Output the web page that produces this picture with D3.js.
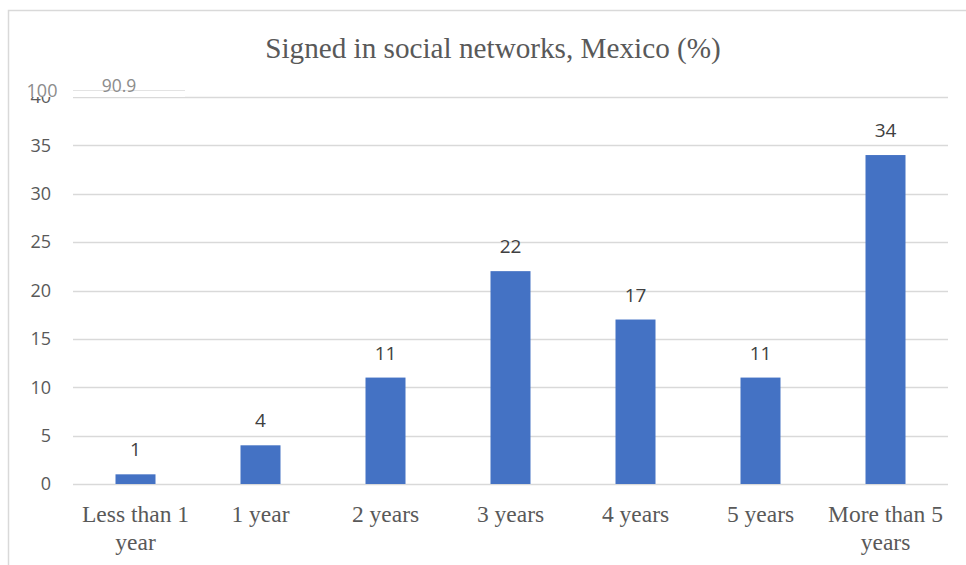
<!DOCTYPE html>
<html><head><meta charset="utf-8">
<script src="https://cdn.jsdelivr.net/npm/d3@7"></script>
<style>body{margin:0;background:#fff}svg{display:block}</style>
</head><body><svg id="c" width="966" height="565"></svg>
<script>
const categories = [["Less than 1","year"],["1 year"],["2 years"],["3 years"],["4 years"],["5 years"],["More than 5","years"]];
const values = [1,4,11,22,17,11,34];
const yTicks = [0,5,10,15,20,25,30,35,40];
const title = "Signed in social networks, Mexico (%)";
const overlayLabels = ["100","90.9"];

(function(){
const svg = d3.select("#c");
const pL=73,pR=948,pT=97,pB=484;
const x = d3.scaleBand().domain(d3.range(categories.length)).range([pL,pR]).paddingInner(0.68).paddingOuter(0.34);
const y = d3.scaleLinear().domain([0,40]).range([pB,pT]);

// outer frame
svg.append("path").attr("d",`M8.5,565 V10.5 H966`).attr("fill","none").attr("stroke","#d9d9d9").attr("stroke-width",1.5);

// gridlines
svg.append("g").selectAll("line").data(yTicks).join("line")
  .attr("x1",pL).attr("x2",pR).attr("y1",d=>Math.round(y(d))+0.5).attr("y2",d=>Math.round(y(d))+0.5)
  .attr("stroke","#d9d9d9").attr("stroke-width",1.5);

// y axis labels
const yAxis = d3.axisLeft(y).tickValues(yTicks).tickSize(0).tickPadding(0);
const ga = svg.append("g").attr("transform",`translate(${pL-22},0)`).call(yAxis);
ga.select(".domain").remove();
ga.selectAll("text").attr("font-family","'Open Sans',sans-serif").attr("font-size",18).attr("fill","#595959");

// bars
svg.append("g").selectAll("rect").data(values).join("rect")
  .attr("x",(d,i)=>x(i)).attr("width",x.bandwidth())
  .attr("y",d=>y(d)).attr("height",d=>y(0)-y(d))
  .attr("fill","#4472c4");

// data labels
svg.append("g").selectAll("text").data(values).join("text")
  .attr("x",(d,i)=>x(i)+x.bandwidth()/2).attr("y",d=>y(d)-18)
  .attr("text-anchor","middle").attr("font-family","'Open Sans',sans-serif").attr("font-size",19).attr("fill","#404040")
  .text(d=>d);

// category labels
const cg = svg.append("g");
categories.forEach((lines,i)=>{
  const cx = x(i)+x.bandwidth()/2;
  const t = cg.append("text").attr("x",cx).attr("y",522)
    .attr("text-anchor","middle").attr("font-family","'Liberation Serif','Times New Roman',serif").attr("font-size",23.5).attr("fill","#595959");
  lines.forEach((l,j)=>t.append("tspan").attr("x",cx).attr("dy",j?28:0).text(l));
});

// title
svg.append("text").attr("x",493).attr("y",58).attr("text-anchor","middle")
  .attr("font-family","'Liberation Serif','Times New Roman',serif").attr("font-size",29.2).attr("fill","#595959").text(title);

// pasted overlay patch (top-left)
svg.append("rect").attr("x",10).attr("y",12).attr("width",175).attr("height",85).attr("fill","#fff");
svg.append("line").attr("x1",73).attr("x2",185).attr("y1",90.5).attr("y2",90.5).attr("stroke","#e3e3e3").attr("stroke-width",1);
svg.append("text").attr("x",42).attr("y",97).attr("text-anchor","middle").attr("font-family","'Open Sans',sans-serif").attr("font-size",18).attr("fill","#8c8c8c").text(overlayLabels[0]);
svg.append("text").attr("x",119).attr("y",92).attr("text-anchor","middle").attr("font-family","'Open Sans',sans-serif").attr("font-size",17.5).attr("fill","#8c8c8c").text(overlayLabels[1]);
})();
</script></body></html>
